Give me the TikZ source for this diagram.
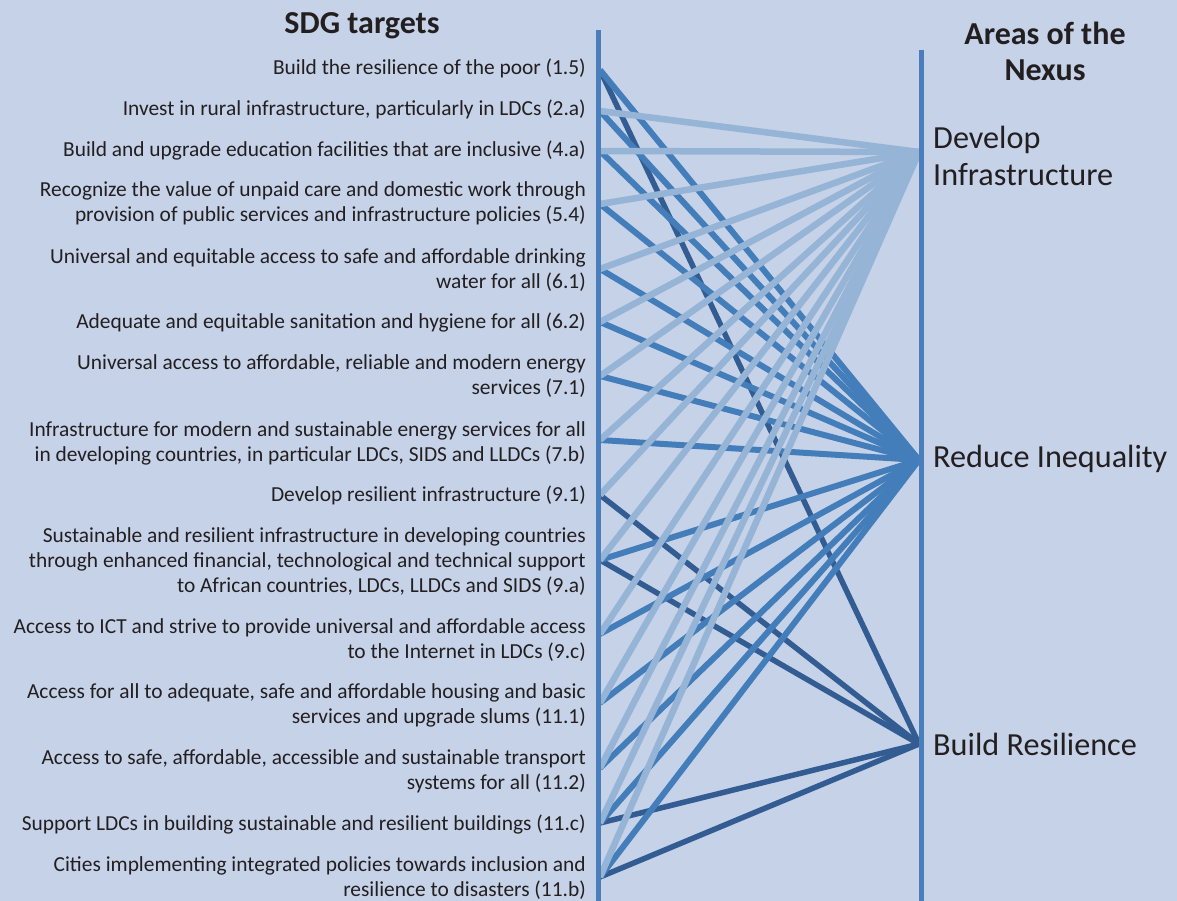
\documentclass[tikz,border=0pt]{standalone}
\usepackage{fontspec}
\setmainfont{Carlito}
\definecolor{bg}{RGB}{197,210,232}
\definecolor{lightc}{RGB}{149,180,214}
\definecolor{medc}{RGB}{68,126,186}
\definecolor{darkc}{RGB}{50,92,146}
\definecolor{axisc}{RGB}{74,126,187}
\definecolor{txt}{RGB}{35,31,32}
\begin{document}
\begin{tikzpicture}[x=1pt,y=-1pt,
  lbl/.style={anchor=east,align=right,font=\fontsize{21.4}{25}\selectfont,text=txt,inner sep=0pt},
  area/.style={anchor=west,align=left,font=\fontsize{32.2}{37}\selectfont,text=txt,inner sep=0pt},
  hdr/.style={font=\bfseries\fontsize{32}{36}\selectfont,align=center,text=txt,inner sep=0pt},
  dev/.style={draw=lightc,line width=6.5pt},
  ineq/.style={draw=medc,line width=6pt},
  res/.style={draw=darkc,line width=5.5pt},
  axis/.style={draw=axisc,line width=5pt}]
\fill[bg] (0,0) rectangle (1177,901);
\useasboundingbox (0,0) rectangle (1177,901);

% headers
\node[hdr] (h1) at (362,26) {SDG targets};
\node[hdr] (h2) at (1045,51) {Areas of the\\Nexus};

% target labels
\node[lbl] (t15) at (586,68) {Build the resilience of the poor (1.5)};
\node[lbl] (t2a) at (586,109) {Invest in rural infrastructure, particularly in LDCs (2.a)};
\node[lbl] (t4a) at (586,151) {Build and upgrade education facilities that are inclusive (4.a)};
\node[lbl] (t54) at (586,203) {Recognize the value of unpaid care and domestic work through\\provision of public services and infrastructure policies (5.4)};
\node[lbl] (t61) at (586,270) {Universal and equitable access to safe and affordable drinking\\water for all (6.1)};
\node[lbl] (t62) at (586,323) {Adequate and equitable sanitation and hygiene for all (6.2)};
\node[lbl] (t71) at (586,376) {Universal access to affordable, reliable and modern energy\\services (7.1)};
\node[lbl] (t7b) at (586,443) {Infrastructure for modern and sustainable energy services for all\\in developing countries, in particular LDCs, SIDS and LLDCs (7.b)};
\node[lbl] (t91) at (586,495) {Develop resilient infrastructure (9.1)};
\node[lbl] (t9a) at (586,562) {Sustainable and resilient infrastructure in developing countries\\through enhanced financial, technological and technical support\\to African countries, LDCs, LLDCs and SIDS (9.a)};
\node[lbl] (t9c) at (586,640) {Access to ICT and strive to provide universal and affordable access\\to the Internet in LDCs (9.c)};
\node[lbl] (t111) at (586,705) {Access for all to adequate, safe and affordable housing and basic\\services and upgrade slums (11.1)};
\node[lbl] (t112) at (586,771) {Access to safe, affordable, accessible and sustainable transport\\systems for all (11.2)};
\node[lbl] (t11c) at (586,825) {Support LDCs in building sustainable and resilient buildings (11.c)};
\node[lbl] (t11b) at (586,878) {Cities implementing integrated policies towards inclusion and\\resilience to disasters (11.b)};

% area labels
\node[area] (aDI) at (933,156) {Develop\\Infrastructure};
\node[area] (aRI) at (933,459) {Reduce Inequality};
\node[area] (aBR) at (933,744) {Build Resilience};

% endpoints
\coordinate (p15) at (600,70);
\coordinate (p2a) at (600,111);
\coordinate (p4a) at (600,151);
\coordinate (p54) at (600,204);
\coordinate (p61) at (600,269);
\coordinate (p62) at (600,322);
\coordinate (p71) at (600,376);
\coordinate (p7b) at (600,440);
\coordinate (p91) at (600,495);
\coordinate (p9a) at (600,560);
\coordinate (p9c) at (600,634);
\coordinate (p111) at (600,703);
\coordinate (p112) at (600,768);
\coordinate (p11c) at (600,823);
\coordinate (p11b) at (600,877);
\coordinate (DI) at (919,152);
\coordinate (RI) at (919,460);
\coordinate (BR) at (919,744);

% build resilience
\foreach \p in {p15,p91,p9a,p11c,p11b} \draw[res] (\p) -- (BR);
% reduce inequality
\foreach \p in {p15,p2a,p4a,p54,p61,p62,p71,p7b,p9a,p9c,p111,p112,p11c,p11b} \draw[ineq] (\p) -- (RI);
% develop infrastructure
\foreach \p in {p2a,p4a,p54,p61,p62,p71,p7b,p91,p9a,p9c,p111,p112,p11c,p11b} \draw[dev] (\p) -- (DI);

% axes
\coordinate (L0) at (598.5,30);
\coordinate (L1) at (598.5,901);
\coordinate (R0) at (921.5,50);
\coordinate (R1) at (921.5,901);
\draw[axis] (L0) -- (L1);
\draw[axis] (R0) -- (R1);
\end{tikzpicture}
\end{document}
